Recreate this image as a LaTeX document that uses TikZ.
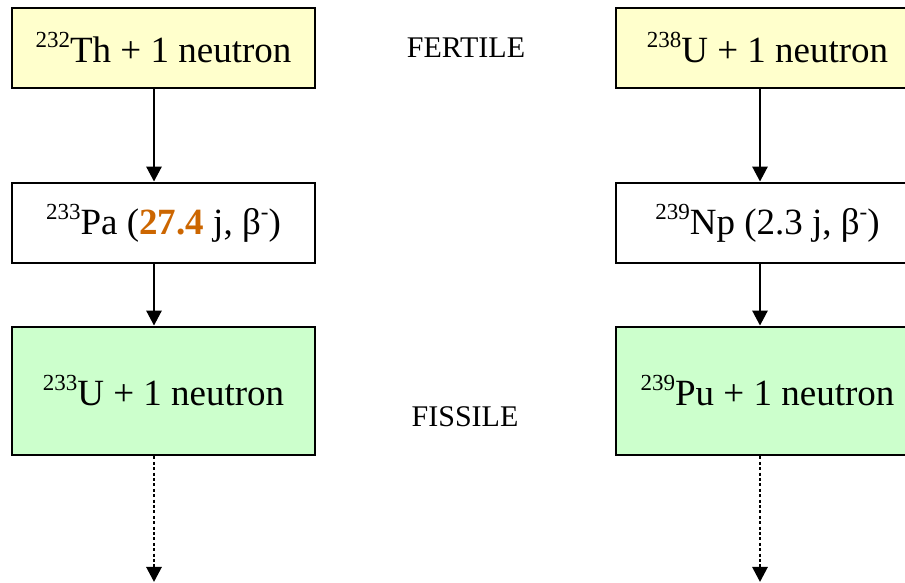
\documentclass[tikz,border=0pt]{standalone}
\usepackage{fontspec}
\setmainfont{LiberationSerif-Regular.ttf}[BoldFont=LiberationSerif-Bold.ttf]
\usetikzlibrary{arrows.meta,calc}
\definecolor{fertYellow}{RGB}{255,255,204}
\definecolor{fissGreen}{RGB}{204,255,204}
\definecolor{halfOrange}{RGB}{204,102,0}
\tikzset{
  nuclide/.style={draw, line width=2.8pt, fill=white, align=center, minimum width=303pt, minimum height=80pt, inner sep=0pt, font=\fontsize{37}{44}\selectfont},
  fertile/.style={nuclide, fill=fertYellow},
  fissile/.style={nuclide, fill=fissGreen, minimum height=128pt},
  tag/.style={align=center, font=\fontsize{30}{36}\selectfont},
  arrow/.style={-{Triangle[length=15pt,width=15pt]}, line width=2.8pt},
  further/.style={arrow, dash pattern=on 3pt off 2.4pt}
}
\newcommand{\iso}[1]{\raisebox{15pt}{\fontsize{23}{23}\selectfont #1}}

\begin{document}
\begin{tikzpicture}[x=1pt,y=1pt]
  \useasboundingbox (0,0) rectangle (905,583);

  % thorium chain
  \node[fertile] (th) at (163.5,535) {\iso{232}Th + 1 neutron};
  \node[nuclide] (pa) at (163.5,360) {\iso{233}Pa (\textbf{\textcolor{halfOrange}{27.4}} j, β\iso{-})};
  \node[fissile] (uthree) at (163.5,192) {\iso{233}U + 1 neutron};
  \coordinate (thend) at (154,1);

  % uranium chain
  \node[fertile] (ueight) at (767.5,535) {\iso{238}U + 1 neutron};
  \node[nuclide] (np) at (767.5,360) {\iso{239}Np (2.3 j, β\iso{-})};
  \node[fissile] (pu) at (767.5,192) {\iso{239}Pu + 1 neutron};
  \coordinate (uend) at (760,1);

  \node[tag] (fertile) at (466,535) {FERTILE};
  \node[tag] (fissile) at (465,166) {FISSILE};

  \draw[arrow] ([xshift=-9.5pt]th.south) -- ([xshift=-9.5pt]pa.north);
  \draw[arrow] ([xshift=-9.5pt]pa.south) -- ([xshift=-9.5pt]uthree.north);
  \draw[further] ([xshift=-9.5pt]uthree.south) -- (thend);
  \draw[arrow] ([xshift=-7.5pt]ueight.south) -- ([xshift=-7.5pt]np.north);
  \draw[arrow] ([xshift=-7.5pt]np.south) -- ([xshift=-7.5pt]pu.north);
  \draw[further] ([xshift=-7.5pt]pu.south) -- (uend);
\end{tikzpicture}
\end{document}
